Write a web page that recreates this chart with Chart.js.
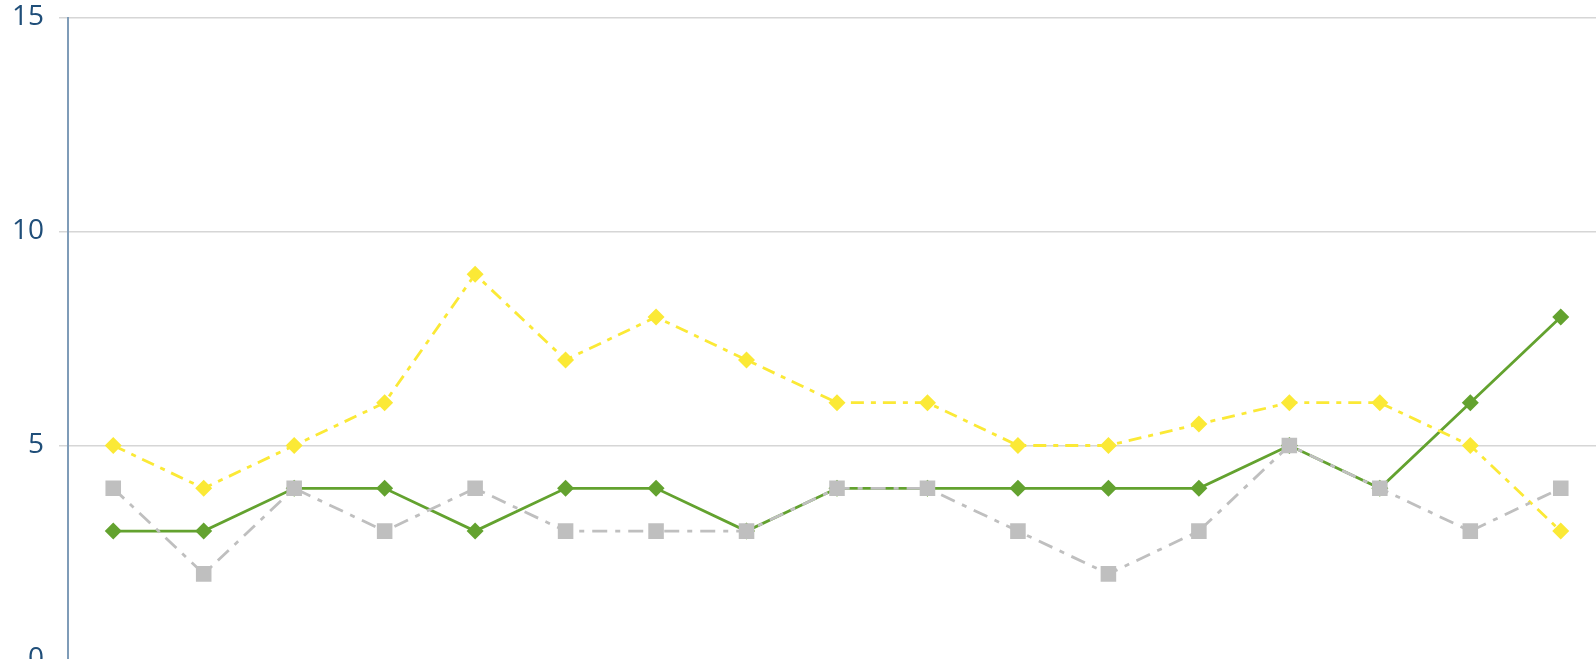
<!DOCTYPE html>
<html>
<head>
<meta charset="utf-8">
<title>Line chart</title>
<script src="https://cdn.jsdelivr.net/npm/chart.js@4.4.1/dist/chart.umd.min.js"></script>
<style>
  html, body { margin: 0; padding: 0; background: #ffffff; overflow: hidden; width: 1596px; height: 659px; }
  #wrap { position: absolute; left: 0; top: 0; }
  canvas { display: block; }
</style>
</head>
<body>
<div id="wrap"><canvas id="chart" width="1620" height="700"></canvas></div>
<script>
// Categories (17 periods along the x axis)
const categories = ['1', '2', '3', '4', '5', '6', '7', '8', '9', '10', '11', '12', '13', '14', '15', '16', '17'];

// Series values
const seriesGreen  = [3, 3, 4, 4, 3, 4, 4, 3, 4, 4, 4, 4, 4, 5, 4, 6, 8];
const seriesYellow = [5, 4, 5, 6, 9, 7, 8, 7, 6, 6, 5, 5, 5.5, 6, 6, 5, 3];
const seriesGray   = [4, 2, 4, 3, 4, 3, 3, 3, 4, 4, 3, 2, 3, 5, 4, 3, 4];

// Value axis ticks
const yTicks = [0, 5, 10, 15];

const GREEN = '#63a22f';
const YELLOW = '#fbe936';
const GRAY = '#bfbfbf';

// Plot area edges inside the (oversized) canvas
const PLOT = { left: 68, top: 17.5, right: 1606, bottom: 659.5 };

// Force the plot area to the exact edges after Chart.js lays out its boxes
const pinArea = {
  id: 'pinArea',
  afterLayout(chart) {
    const a = chart.chartArea;
    if (Math.abs(a.top - PLOT.top) > 0.01) {
      a.top = PLOT.top;
      a.height = a.bottom - a.top;
      const y = chart.scales.y;
      y.top = PLOT.top;
      y.height = y.bottom - y.top;
      y.configure();
      y._gridLineItems = null;
      y._labelItems = null;
    }
  }
};

new Chart(document.getElementById('chart'), {
  type: 'line',
  plugins: [pinArea],
  data: {
    labels: categories,
    datasets: [
      {
        label: 'Gray',
        data: seriesGray,
        borderColor: GRAY,
        backgroundColor: GRAY,
        borderWidth: 2.8,
        borderDash: [15, 8, 5, 8],
        pointStyle: 'rect',
        pointRadius: 11,
        pointHoverRadius: 11,
        pointBorderWidth: 0,
        pointBackgroundColor: GRAY,
        tension: 0,
        fill: false
      },
      {
        label: 'Yellow',
        data: seriesYellow,
        borderColor: YELLOW,
        backgroundColor: YELLOW,
        borderWidth: 2.8,
        borderDash: [13, 7, 5, 7],
        pointStyle: 'rectRot',
        pointRadius: 8.5,
        pointHoverRadius: 8.5,
        pointBorderWidth: 0,
        pointBackgroundColor: YELLOW,
        tension: 0,
        fill: false
      },
      {
        label: 'Green',
        data: seriesGreen,
        borderColor: GREEN,
        backgroundColor: GREEN,
        borderWidth: 2.8,
        pointStyle: 'rectRot',
        pointRadius: 8.5,
        pointHoverRadius: 8.5,
        pointBorderWidth: 0,
        pointBackgroundColor: GREEN,
        tension: 0,
        fill: false
      }
    ]
  },
  options: {
    responsive: false,
    animation: false,
    devicePixelRatio: 1,
    layout: { padding: { left: 0, top: 14.5, right: 1620 - PLOT.right, bottom: 700 - PLOT.bottom } },
    plugins: {
      legend: { display: false },
      tooltip: { enabled: false }
    },
    scales: {
      x: {
        type: 'category',
        offset: true,
        display: false,
        grid: { display: false, offset: true }
      },
      y: {
        min: yTicks[0],
        max: yTicks[yTicks.length - 1],
        afterBuildTicks: (scale) => { scale.ticks = yTicks.map(v => ({ value: v })); },
        afterFit: (scale) => { scale.width = PLOT.left; },
        border: { display: true, color: '#7f9cb8', width: 2 },
        grid: {
          color: '#d6d6d6',
          lineWidth: 1.5,
          tickLength: 9,
          drawTicks: true
        },
        ticks: {
          padding: 15,
          color: '#1f4e79',
          font: { family: '"Open Sans", "Liberation Sans", sans-serif', size: 28, lineHeight: 0.3 }
        }
      }
    }
  }
});
</script>
</body>
</html>
